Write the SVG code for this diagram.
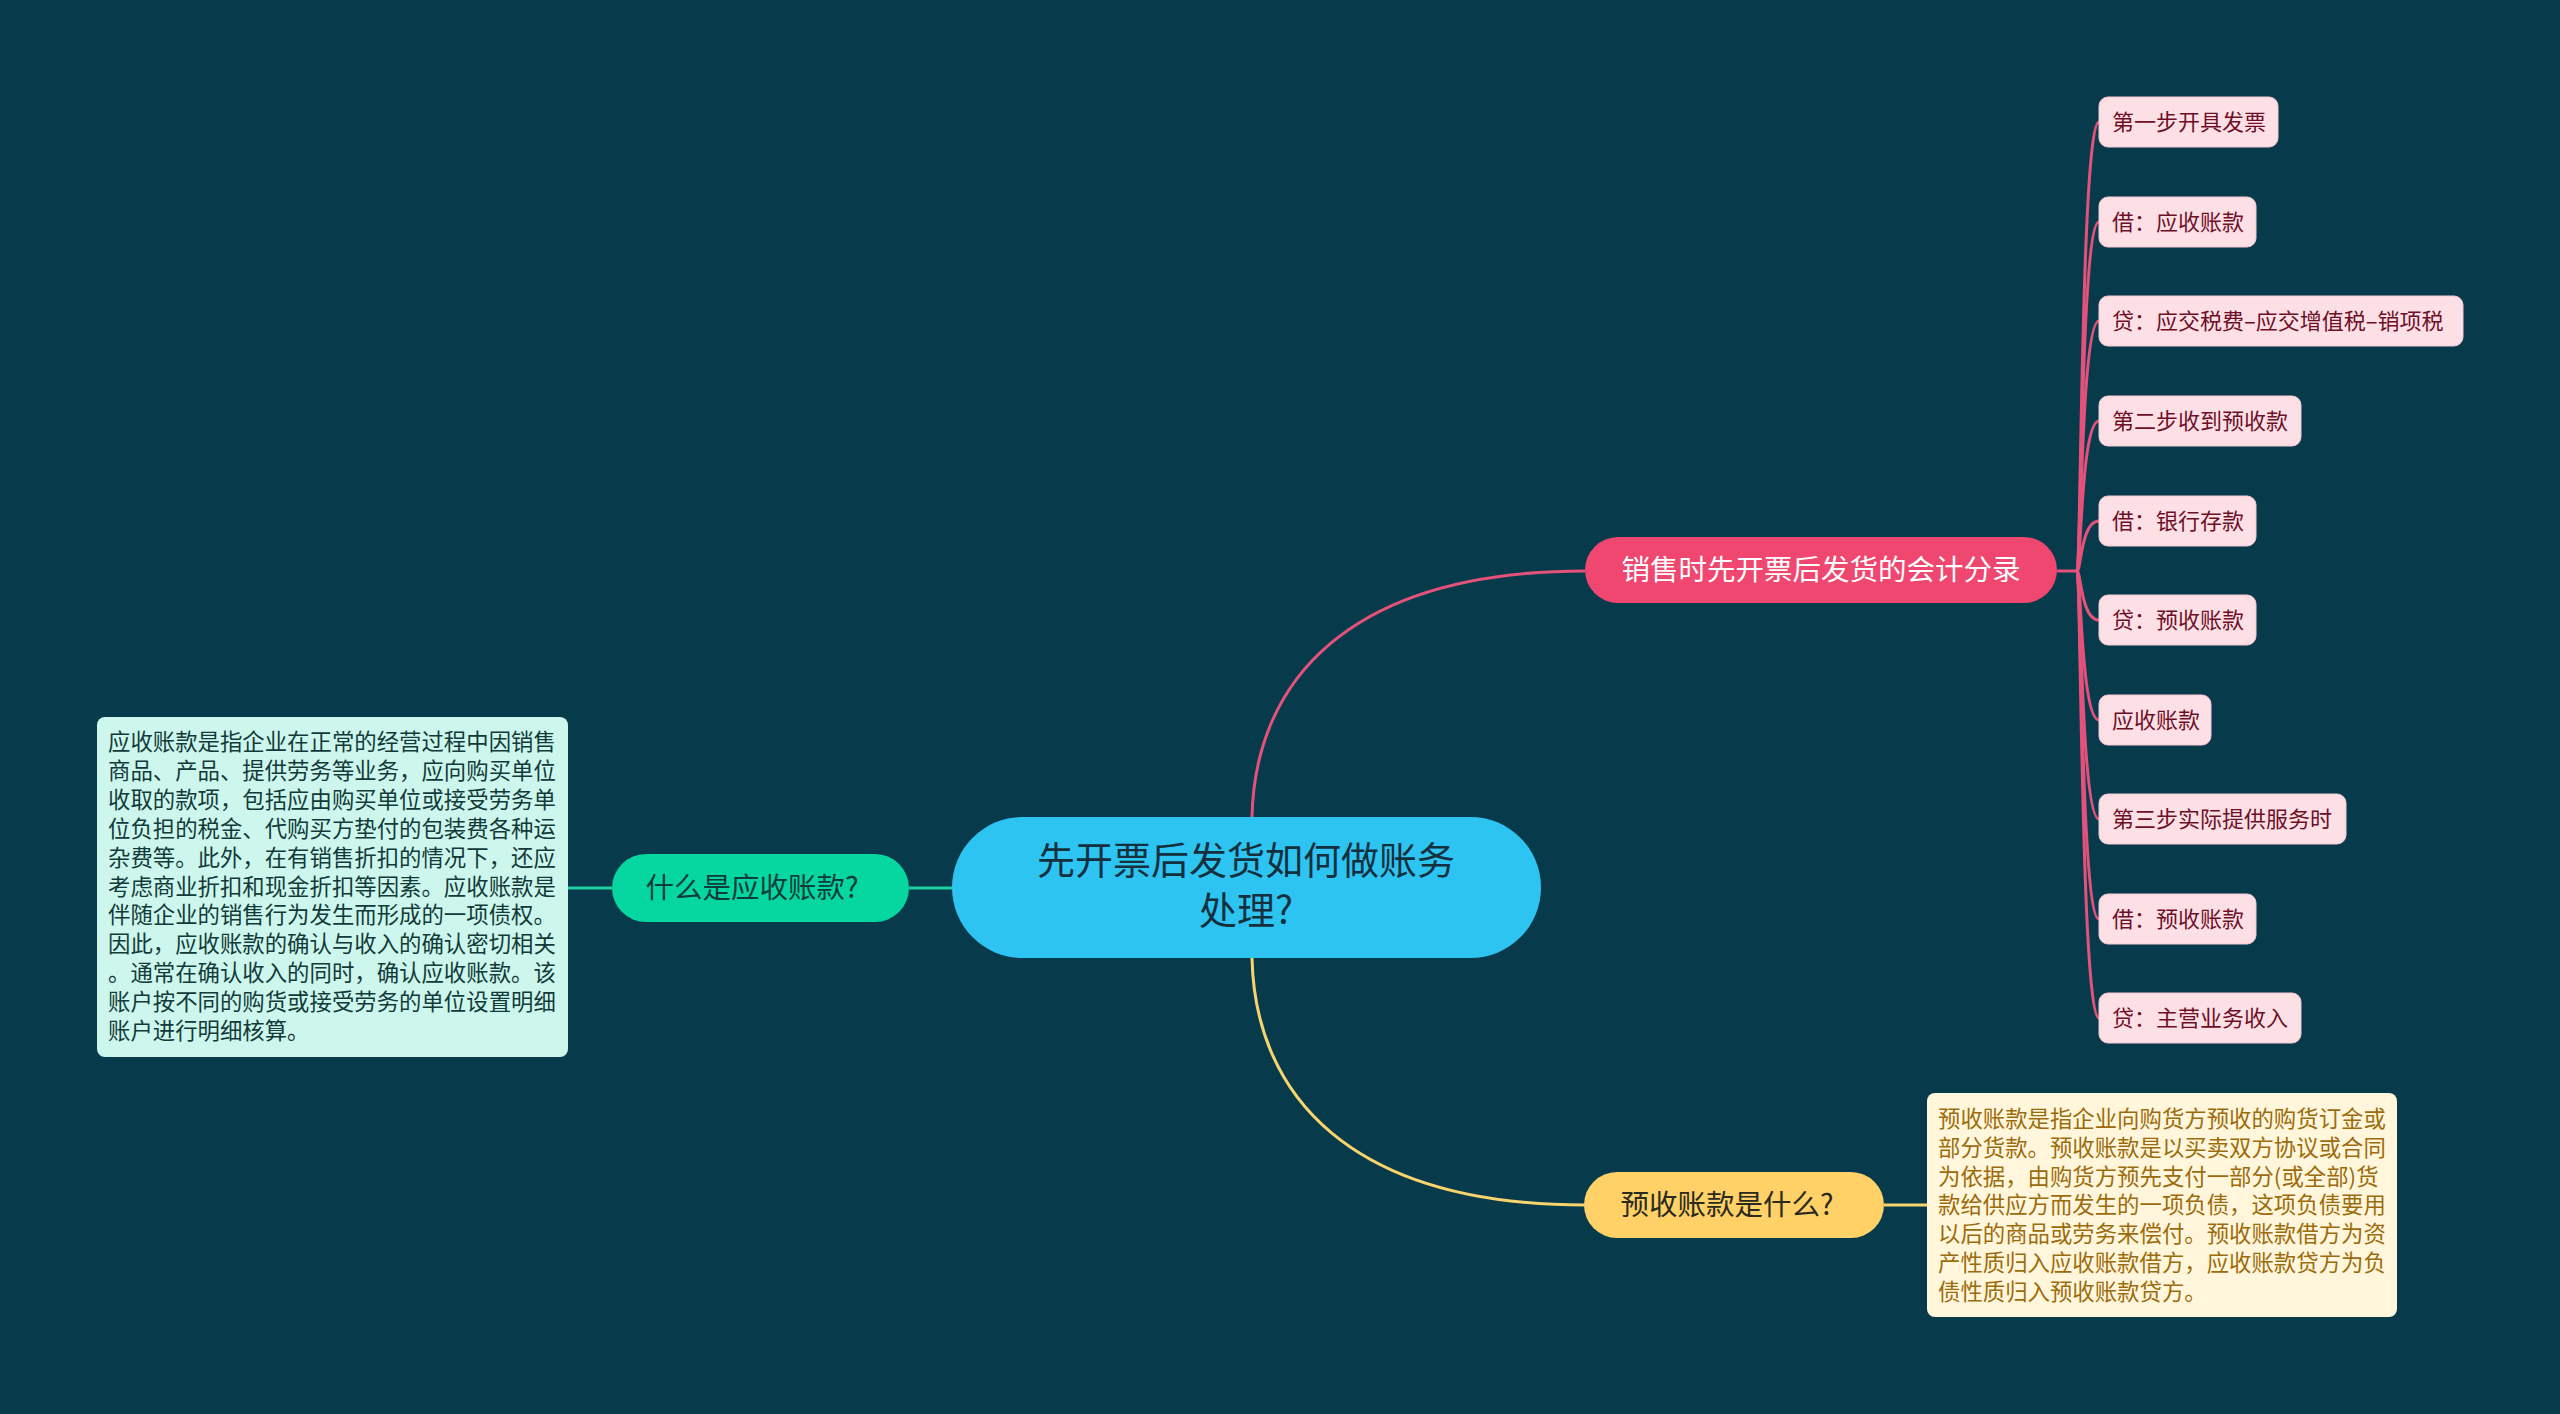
<svg xmlns="http://www.w3.org/2000/svg" width="2560" height="1414" viewBox="0 0 2560 1414">
<style>
text{font-family:"Noto Sans CJK SC","Noto Sans",sans-serif}
.leaf rect{fill:#fde0e6;stroke:#f6c8d3;stroke-width:1}
.leaf text{font-size:22px;fill:#6e0f27}
.pk{fill:none;stroke:#e4517a;stroke-width:3}
.yl{fill:none;stroke:#f7d46c;stroke-width:3}
.gr{fill:none;stroke:#20cf9f;stroke-width:3}
.para{font-size:22.4px}
</style>
<rect width="2560" height="1414" fill="#073b4c"/>
<g id="connectors">
<path class="pk" d="M1252,817 C1255,680 1350,571 1585,571"/>
<path class="yl" d="M1252,958 C1255,1095 1350,1205 1585,1205"/>
<path class="yl" d="M1884,1205 L1927,1205"/>
<path class="gr" d="M909,888 L952,888"/>
<path class="gr" d="M568,888 L612,888"/>
<path class="pk" d="M2057,571 L2078,571"/>
<path class="pk" d="M2077,571 C2081,571 2081,122 2099,122"/>
<path class="pk" d="M2077,571 C2081,571 2081,222 2099,222"/>
<path class="pk" d="M2077,571 C2081,571 2081,321 2099,321"/>
<path class="pk" d="M2077,571 C2081,571 2081,421 2099,421"/>
<path class="pk" d="M2077,571 C2081,571 2081,521 2099,521"/>
<path class="pk" d="M2077,571 C2081,571 2081,620 2099,620"/>
<path class="pk" d="M2077,571 C2081,571 2081,720 2099,720"/>
<path class="pk" d="M2077,571 C2081,571 2081,819 2099,819"/>
<path class="pk" d="M2077,571 C2081,571 2081,919 2099,919"/>
<path class="pk" d="M2077,571 C2081,571 2081,1018 2099,1018"/>
</g>
<g id="central">
<rect x="952" y="817" width="589" height="141" rx="70.5" fill="#2ec4f2"/>
<text x="1246" y="874" font-size="38" fill="#14303e" text-anchor="middle">先开票后发货如何做账务</text>
<text x="1246" y="924" font-size="38" fill="#14303e" text-anchor="middle">处理?</text>
</g>
<g id="topic-pink">
<rect x="1585" y="537" width="472" height="66" rx="33" fill="#ef476f"/>
<text x="1821" y="580" font-size="28.5" fill="#ffffff" text-anchor="middle">销售时先开票后发货的会计分录</text>
</g>
<g id="topic-green">
<rect x="612" y="854" width="297" height="68" rx="34" fill="#06d6a0"/>
<text x="752" y="898" font-size="28.5" fill="#0d3d3a" text-anchor="middle">什么是应收账款?</text>
</g>
<g id="topic-yellow">
<rect x="1584" y="1172" width="300" height="66" rx="33" fill="#ffd166"/>
<text x="1727" y="1215" font-size="28.5" fill="#2a2a1e" text-anchor="middle">预收账款是什么?</text>
</g>
<g id="note-green">
<rect x="97" y="717" width="471" height="340" rx="8" fill="#cdf7ec"/>
<text class="para" x="108" fill="#123a3a">
<tspan x="108" y="750">应收账款是指企业在正常的经营过程中因销售</tspan>
<tspan x="108" y="778.9">商品、产品、提供劳务等业务，应向购买单位</tspan>
<tspan x="108" y="807.8">收取的款项，包括应由购买单位或接受劳务单</tspan>
<tspan x="108" y="836.7">位负担的税金、代购买方垫付的包装费各种运</tspan>
<tspan x="108" y="865.6">杂费等。此外，在有销售折扣的情况下，还应</tspan>
<tspan x="108" y="894.5">考虑商业折扣和现金折扣等因素。应收账款是</tspan>
<tspan x="108" y="923.4">伴随企业的销售行为发生而形成的一项债权。</tspan>
<tspan x="108" y="952.3">因此，应收账款的确认与收入的确认密切相关</tspan>
<tspan x="108" y="981.2">。通常在确认收入的同时，确认应收账款。该</tspan>
<tspan x="108" y="1010.1">账户按不同的购货或接受劳务的单位设置明细</tspan>
<tspan x="108" y="1039">账户进行明细核算。</tspan>
</text>
</g>
<g id="note-yellow">
<rect x="1927" y="1093" width="470" height="224" rx="8" fill="#fff6db"/>
<text class="para" x="1938" fill="#9c6c0c">
<tspan x="1938" y="1127">预收账款是指企业向购货方预收的购货订金或</tspan>
<tspan x="1938" y="1155.8">部分货款。预收账款是以买卖双方协议或合同</tspan>
<tspan x="1938" y="1184.6">为依据，由购货方预先支付一部分(或全部)货</tspan>
<tspan x="1938" y="1213.4">款给供应方而发生的一项负债，这项负债要用</tspan>
<tspan x="1938" y="1242.2">以后的商品或劳务来偿付。预收账款借方为资</tspan>
<tspan x="1938" y="1271">产性质归入应收账款借方，应收账款贷方为负</tspan>
<tspan x="1938" y="1299.8">债性质归入预收账款贷方。</tspan>
</text>
</g>
<g id="leaf-1" class="leaf"><rect x="2099" y="97" width="179" height="50" rx="9"/><text x="2112" y="130">第一步开具发票</text></g>
<g id="leaf-2" class="leaf"><rect x="2099" y="197" width="157" height="50" rx="9"/><text x="2112" y="230">借：应收账款</text></g>
<g id="leaf-3" class="leaf"><rect x="2099" y="296" width="364" height="50" rx="9"/><text x="2112" y="329">贷：应交税费–应交增值税–销项税</text></g>
<g id="leaf-4" class="leaf"><rect x="2099" y="396" width="202" height="50" rx="9"/><text x="2112" y="429">第二步收到预收款</text></g>
<g id="leaf-5" class="leaf"><rect x="2099" y="496" width="157" height="50" rx="9"/><text x="2112" y="529">借：银行存款</text></g>
<g id="leaf-6" class="leaf"><rect x="2099" y="595" width="157" height="50" rx="9"/><text x="2112" y="628">贷：预收账款</text></g>
<g id="leaf-7" class="leaf"><rect x="2099" y="695" width="112" height="50" rx="9"/><text x="2112" y="728">应收账款</text></g>
<g id="leaf-8" class="leaf"><rect x="2099" y="794" width="247" height="50" rx="9"/><text x="2112" y="827">第三步实际提供服务时</text></g>
<g id="leaf-9" class="leaf"><rect x="2099" y="894" width="157" height="50" rx="9"/><text x="2112" y="927">借：预收账款</text></g>
<g id="leaf-10" class="leaf"><rect x="2099" y="993" width="202" height="50" rx="9"/><text x="2112" y="1026">贷：主营业务收入</text></g>
</svg>
